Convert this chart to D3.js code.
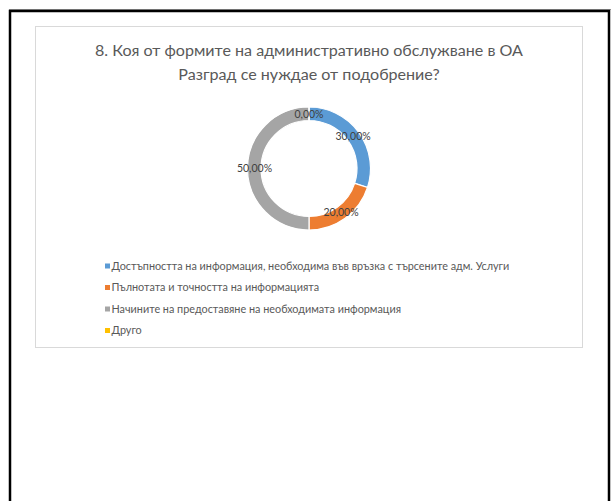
<!DOCTYPE html>
<html><head><meta charset="utf-8">
<script src="https://cdn.jsdelivr.net/npm/d3@7"></script>
<style>html,body{margin:0;padding:0;background:#fff;}svg{display:block;}</style>
</head><body>
<svg id="c" width="611" height="501"></svg>
<script>
const titleLines = ["8. Коя от формите на административно обслужване в ОА", "Разград се нуждае от подобрение?"];
const categories = [
  "Достъпността на информация, необходима във връзка с търсените адм. Услуги",
  "Пълнотата и точността на информацията",
  "Начините на предоставяне на необходимата информация",
  "Друго"
];
const values = [30, 20, 50, 0];
const labels = ["30,00%", "20,00%", "50,00%", "0,00%"];
const colors = ["#5B9BD5", "#ED7D31", "#A5A5A5", "#FFC000"];

const svg = d3.select("#c");
const FONT = "Lato, 'Liberation Sans', Arial, sans-serif";

// outer frame
svg.append("line").attr("x1",9).attr("x2",611).attr("y1",9.5).attr("y2",9.5).attr("stroke","#999").attr("stroke-width",1);
svg.append("path").attr("d","M10,501 V11 H609 V501").attr("fill","none").attr("stroke","#000").attr("stroke-width",2.5);

// chart box
svg.append("rect").attr("x",35.5).attr("y",26.5).attr("width",547).attr("height",321)
  .attr("fill","#fff").attr("stroke","#d9d9d9").attr("stroke-width",1);

function fitText(sel, target){
  const n = sel.node();
  const w = n.getComputedTextLength();
  const fs = parseFloat(sel.attr("font-size"));
  sel.attr("font-size", fs * target / w);
}

// title
const tt = svg.append("g");
titleLines.forEach((t,i)=>{
  const s = tt.append("text").attr("x",309).attr("y",[55.5,79.5][i]).attr("text-anchor","middle")
    .attr("font-family",FONT).attr("font-size",16).attr("fill","#595959").text(t);
  if(i===0) fitText(s, 428);
});
const fs0 = tt.select("text").attr("font-size");
tt.selectAll("text").attr("font-size", fs0);

// donut
const cx = 309, cy = 168.5, rOut = 61.5, rIn = 48;
const pie = d3.pie().sort(null).value(d=>d.v);
const arcs = pie(values.map((v,i)=>({v, i})));
const arc = d3.arc().innerRadius(rIn).outerRadius(rOut);
const labelArc = d3.arc().innerRadius(54.5).outerRadius(54.5);
const g = svg.append("g").attr("transform",`translate(${cx},${cy})`);
g.selectAll("path").data(arcs).join("path")
  .attr("d",arc).attr("fill",d=>colors[d.data.i]).attr("stroke","#fff").attr("stroke-width",1.2);
g.selectAll("text").data(arcs).join("text")
  .attr("transform",d=>`translate(${labelArc.centroid(d)})`)
  .attr("text-anchor","middle").attr("dy","0.35em")
  .attr("font-family",FONT).attr("font-size",10.5).attr("fill","#404040")
  .text(d=>labels[d.data.i]);

// legend
const lg = svg.append("g");
const ly = d3.scalePoint().domain(d3.range(categories.length)).range([266,330.5]);
categories.forEach((c,i)=>{
  lg.append("rect").attr("x",105).attr("y",ly(i)-2.5).attr("width",5).attr("height",5).attr("fill",colors[i]);
  const t = lg.append("text").attr("x",111.5).attr("y",ly(i)).attr("dy","0.35em")
    .attr("font-family",FONT).attr("font-size",10).attr("fill","#595959").text(c);
  if(i===0) fitText(t, 398);
});
const lfs = lg.select("text").attr("font-size");
lg.selectAll("text").attr("font-size", lfs);
</script>
</body></html>
